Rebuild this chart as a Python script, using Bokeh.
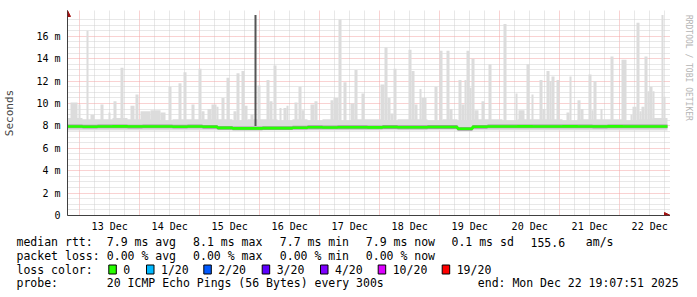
from datetime import datetime, timedelta
import math
from bokeh.plotting import figure
from bokeh.layouts import column, row
from bokeh.models import (Range1d, FixedTicker, CustomJSTickFormatter, DatetimeTickFormatter,
                          Arrow, NormalHead)
from bokeh.core.properties import value
from bokeh.embed import file_html
from bokeh.resources import INLINE

# ---------------- data ----------------
start = datetime(2025, 12, 12, 19, 7, 51)
end = datetime(2025, 12, 22, 19, 7, 51)

y_ticks = [0, 2, 4, 6, 8, 10, 12, 14, 16]

# median rtt (ms), 6-hour bins from start
median_ms = [7.95, 7.93, 7.95, 7.96, 7.94, 7.95, 7.95, 7.93, 7.95, 7.92,
             7.82, 7.78, 7.78, 7.80, 7.80, 7.84,
             7.88, 7.86, 7.88, 7.88, 7.87, 7.90, 7.88, 7.88, 7.90, 7.90,
             7.74,
             7.92, 7.95, 7.95, 7.96, 7.95, 7.95, 7.96, 7.95, 7.94, 7.96, 7.95, 7.95, 7.95]
smoke_hi_ms = [8.7, 8.6, 8.6, 8.7, 8.6, 8.6, 8.5, 8.6, 8.6, 8.6,
               8.6, 8.5, 8.6, 8.6, 8.5, 8.6,
               8.5, 8.6, 8.5, 8.6, 8.6, 8.5, 8.6, 8.6, 8.5, 8.6,
               8.5,
               8.6, 8.6, 8.5, 8.6, 8.6, 8.6, 8.5, 8.6, 8.6, 8.6, 8.5, 8.6, 8.7]
smoke_lo_ms = [7.6] * 40

# hours since start, max rtt (ms) of the light smoke spikes
spike_start_h = [1.2, 4.4, 7.6, 9.2, 13.2, 16.4, 18.4, 21.2, 25.2, 27.2, 29.2, 33.2, 37.2, 40.4, 44.4,
                 46.4, 49.6, 52.4, 53.6, 56.0, 57.6, 59.6, 61.6, 63.6, 66.4, 67.6, 69.6, 70.8, 73.2,
                 76.0, 79.6, 80.8, 82.4, 84.8, 86.4, 87.6, 90.8, 92.4, 93.6, 97.2, 98.8, 105.2, 106.4,
                 108.4, 110.4, 113.2, 114.8, 117.6, 125.2, 126.8, 128.0, 129.2, 130.4, 136.4, 137.6,
                 138.8, 140.8, 141.6, 146.8, 148.8, 151.6, 152.8, 156.4, 157.6, 158.8, 159.6, 160.8,
                 161.6, 162.8, 165.6, 168.4, 174.4, 179.2, 180.4, 183.6, 185.6, 188.8, 190.0, 191.6,
                 192.8, 193.6, 195.6, 199.6, 200.8, 204.0, 205.2, 208.4, 209.6, 210.4, 213.2, 217.2,
                 221.6, 225.2, 226.0, 227.6, 228.8, 229.6, 230.8, 232.0, 232.8, 234.0, 237.6, 238.4]
spike_end_h = [4.0, 5.2, 8.4, 10.8, 14.4, 17.2, 19.6, 22.4, 26.8, 28.4, 33.2, 37.2, 39.2, 41.6, 45.6,
               47.6, 50.8, 53.6, 54.8, 57.6, 59.6, 60.4, 62.8, 64.8, 67.6, 68.8, 70.8, 72.0, 74.4,
               77.2, 80.8, 82.0, 83.6, 85.6, 87.6, 88.4, 92.0, 93.6, 94.8, 98.8, 100.0, 106.4, 108.4,
               109.6, 111.6, 114.8, 116.0, 118.8, 126.8, 128.0, 129.2, 130.4, 131.6, 137.6, 138.8,
               140.0, 141.6, 143.6, 148.0, 150.0, 152.8, 154.0, 157.6, 158.8, 159.6, 160.8, 161.6,
               162.8, 164.4, 166.8, 169.6, 175.6, 180.0, 182.8, 184.8, 186.4, 190.0, 191.2, 192.8,
               193.6, 194.8, 196.8, 200.8, 201.6, 205.2, 206.4, 209.6, 210.4, 211.6, 214.0, 218.4,
               223.6, 226.0, 227.6, 228.8, 229.6, 230.8, 232.0, 232.8, 234.0, 234.8, 238.4, 239.2]
spike_max_ms = [10.1, 9.9, 16.5, 9.0, 9.9, 9.2, 10.2, 13.2, 9.8, 10.8, 9.3, 9.4, 9.2, 11.5, 11.8,
                12.8, 9.9, 13.1, 9.3, 9.5, 9.9, 9.7, 10.5, 12.3, 9.3, 12.7, 12.9, 9.8, 9.0,
                11.6, 12.1, 10.2, 13.4, 9.6, 9.6, 9.8, 10.1, 11.5, 9.4, 9.9, 10.2, 10.3, 10.5,
                17.5, 11.9, 10.0, 13.0, 10.9, 11.7, 15.0, 10.5, 9.1, 13.1, 14.8, 12.9,
                9.9, 11.3, 10.5, 11.5, 14.7, 14.7, 9.5, 12.1, 9.9, 12.1, 14.7, 11.4,
                14.0, 9.4, 10.2, 13.5, 17.1, 10.9, 9.4, 13.5, 10.8, 12.1, 9.5, 12.9,
                12.0, 12.4, 12.1, 9.2, 12.4, 10.3, 9.5, 12.6, 9.4, 12.0, 9.5, 14.2,
                13.9, 9.0, 9.7, 17.2, 9.3, 9.7, 14.2, 11.1, 11.5, 11.1, 17.9, 10.6]
# dense (dark) smoke spike
dense_start_h = [74.8]
dense_end_h = [75.6]
dense_max_ms = [17.9]

rtt_labels = ["7.9 ms avg", "8.1 ms max", "7.7 ms min", "7.9 ms now", "0.1 ms sd", "155.6", "am/s"]
loss_labels = ["0.00 % avg", "0.00 % max", "0.00 % min", "0.00 % now"]
loss_steps = ["0", "1/20", "2/20", "3/20", "4/20", "10/20", "19/20"]
loss_colors = ["#26ff00", "#00b8ff", "#0059ff", "#5e00ff", "#7e00ff", "#dd00ff", "#ff0000"]
probe_text = "20 ICMP Echo Pings (56 Bytes) every 300s"
end_text = "end: Mon Dec 22 19:07:51 2025"
credit_text = "RRDTOOL / TOBI OETIKER"

# ---------------- layout constants ----------------
MONO = "DejaVu Sans Mono"
W, H = 697, 297
MAIN_W, MAIN_H = 670, 234
L, T, B = 67, 10, 19
PX_PER_MS = 11.2
PX_PER_H = 2.5

def th(h):
    return start + timedelta(hours=h)

def ms(d):
    return (d - datetime(1970, 1, 1)).total_seconds() * 1000.0

frame_h = MAIN_H - T - B
frame_w = MAIN_W - L
p = figure(width=MAIN_W, height=MAIN_H, x_axis_type="datetime", output_backend="svg",
           toolbar_location=None,
           x_range=Range1d(start, th(frame_w / PX_PER_H)),
           y_range=Range1d(0, frame_h / PX_PER_MS),
           min_border_left=L, min_border_right=0, min_border_top=T, min_border_bottom=B)
p.outline_line_color = None
p.background_fill_color = "white"
p.border_fill_color = "white"

# grids
midnights = [datetime(2025, 12, d) for d in range(13, 23)]
six_hours = [datetime(2025, 12, 12, 18) + timedelta(hours=6 * i) for i in range(41)]
six_hours = [s for s in six_hours if s.hour != 0 and start <= s <= end]
noons = [datetime(2025, 12, d, 12) for d in range(13, 23)]

p.xgrid.ticker = FixedTicker(ticks=[ms(d) for d in midnights], minor_ticks=[ms(d) for d in six_hours])
p.ygrid.ticker = FixedTicker(ticks=y_ticks[1:], minor_ticks=[v * 0.5 for v in range(1, 36) if v % 4 != 0])
for g in (p.xgrid, p.ygrid):
    g.grid_line_color = "#f2a4a4"
    g.grid_line_dash = "1 1"
    g.grid_line_width = 1
    g.minor_grid_line_color = "#d0d0d0"
    g.minor_grid_line_dash = "1 1"
    g.minor_grid_line_width = 1

# axes
p.xaxis.ticker = FixedTicker(ticks=[ms(d) for d in noons])
p.xaxis.formatter = DatetimeTickFormatter(days="%d %b", hours="%d %b", months="%d %b")
p.yaxis.ticker = FixedTicker(ticks=y_ticks)
p.yaxis.formatter = CustomJSTickFormatter(code="return tick == 0 ? '0' : tick.toFixed(0) + ' m';")
for ax in (p.xaxis, p.yaxis):
    ax.major_tick_in = 0
    ax.major_tick_out = 0
    ax.minor_tick_in = 0
    ax.minor_tick_out = 0
    ax.major_label_text_font = MONO
    ax.major_label_text_font_size = "10px"
    ax.major_label_text_color = "#000000"
    ax.axis_line_color = "#404040"
p.xaxis.major_label_standoff = 5
p.yaxis.major_label_standoff = 7
p.yaxis.axis_label = "Seconds"
p.yaxis.axis_label_text_font = MONO
p.yaxis.axis_label_text_font_size = "11px"
p.yaxis.axis_label_text_font_style = "normal"
p.yaxis.axis_label_standoff = 17

# ---------------- data glyphs ----------------
edges = [th(6 * i) for i in range(41)]
p.varea_step(x=edges, y1=smoke_lo_ms + [smoke_lo_ms[-1]], y2=smoke_hi_ms + [smoke_hi_ms[-1]],
             step_mode="after", fill_color="#dcdcdc")
p.quad(left=[th(h) for h in spike_start_h], right=[th(h) for h in spike_end_h],
       bottom=[8.0] * len(spike_max_ms), top=spike_max_ms,
       fill_color="#dcdcdc", line_color=None)
p.quad(left=[th(h) for h in dense_start_h], right=[th(h) for h in dense_end_h],
       bottom=[8.0] * len(dense_max_ms), top=dense_max_ms,
       fill_color="#555555", line_color=None)
med_ext = median_ms + [median_ms[-1]]
p.varea_step(x=edges, y1=[m - 0.17 for m in med_ext], y2=[m + 0.17 for m in med_ext],
             step_mode="after", fill_color="#9c9c9c")
p.step(x=edges, y=med_ext, mode="after", line_color="#26ff00", line_width=2.6)

# axis arrows
y_top = frame_h / PX_PER_MS
x_right = th(frame_w / PX_PER_H)
p.add_layout(Arrow(end=NormalHead(size=6, fill_color="#a01010", line_color="#a01010"),
                   x_start=start, y_start=0, x_end=start, y_end=y_top,
                   line_color="#404040", line_width=1))
p.add_layout(Arrow(end=NormalHead(size=6, fill_color="#a01010", line_color="#a01010"),
                   x_start=start, y_start=0, x_end=x_right, y_end=0,
                   line_color="#404040", line_width=1))

# ---------------- side strip with credit ----------------
SIDE_W = W - MAIN_W
side = figure(width=SIDE_W, height=MAIN_H, output_backend="svg", toolbar_location=None,
              x_range=Range1d(0, SIDE_W), y_range=Range1d(0, MAIN_H),
              min_border=0, x_axis_location=None, y_axis_location=None)
side.outline_line_color = None
side.grid.visible = False
side.text(x=[688 - MAIN_W], y=[MAIN_H - 5], text=[credit_text], angle=-math.pi / 2,
          text_font=value(MONO), text_font_size="8px", text_color="#b4b4b4",
          text_align="left", text_baseline="middle")

# ---------------- legend / stats strip ----------------
BOT_H = H - MAIN_H
bot = figure(width=W, height=BOT_H, output_backend="svg", toolbar_location=None,
             x_range=Range1d(0, W), y_range=Range1d(0, BOT_H),
             min_border=0, x_axis_location=None, y_axis_location=None)
bot.outline_line_color = None
bot.grid.visible = False

def txt(px, py, s):
    bot.text(x=[px], y=[H - py], text=[s], text_font=value(MONO), text_font_size="11.5px",
             text_color="#000000", text_align="left", text_baseline="middle")

rows_y = [241.7, 255.0, 269.0, 282.7]
txt(16, rows_y[0], "median rtt:")
for s, x in zip(rtt_labels, [106.3, 192.6, 279.3, 365.3, 451.0, 530.0, 585.3]):
    txt(x, rows_y[0], s)
txt(16, rows_y[1], "packet loss:")
for s, x in zip(loss_labels, [106.3, 192.6, 279.3, 365.3]):
    txt(x, rows_y[1], s)
txt(16, rows_y[2], "loss color:")
sw_x = [108.3, 146.0, 203.3, 261.7, 320.0, 377.7, 441.7]
bot.quad(left=sw_x, right=[x + 7.5 for x in sw_x],
         bottom=[H - 273.5] * len(sw_x), top=[H - 264.5] * len(sw_x),
         fill_color=loss_colors, line_color="#000000", line_width=1)
for s, x in zip(loss_steps, sw_x):
    txt(x + 14.5, rows_y[2], s)
txt(16, rows_y[3], "probe:")
txt(106.3, rows_y[3], probe_text)
txt(477.3, rows_y[3], end_text)

layout = column(row(p, side, spacing=0), bot, spacing=0)
open("out.html", "w").write(file_html(layout, INLINE))
